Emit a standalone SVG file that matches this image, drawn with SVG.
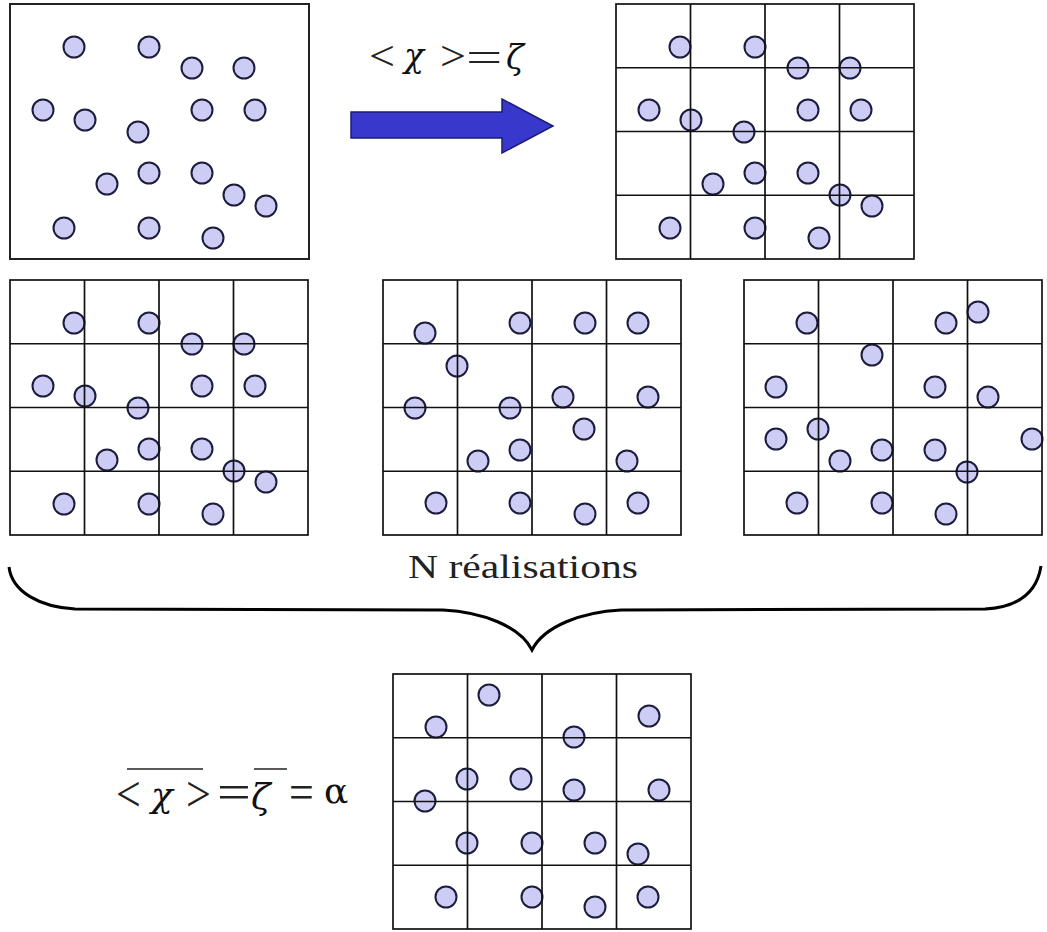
<svg xmlns="http://www.w3.org/2000/svg" xmlns:xlink="http://www.w3.org/1999/xlink" width="1047" height="932" viewBox="0 0 1047 932">
<style>
.c{fill:#ccccf4;stroke:#1c1c3c;stroke-width:2}
.g{fill:none;stroke:#111;stroke-width:1.7}
.t{font-family:"Liberation Serif","Times New Roman",serif;fill:#222}
.gr{font-family:"DejaVu Serif","Liberation Serif",serif;font-style:italic;fill:#111}
.up{font-family:"DejaVu Serif","Liberation Serif",serif;fill:#111}
.ov{stroke:#222;stroke-width:1.6}
</style>
<defs>
<g id="grid">
<rect x="0" y="0" width="298" height="255" class="g"/>
<path class="g" d="M74.5 0V255M149 0V255M223.5 0V255M0 63.75H298M0 127.5H298M0 191.25H298"/>
</g>
<g id="patA">
<circle class="c" cx="74" cy="47" r="10.5"/>
<circle class="c" cx="149" cy="47" r="10.5"/>
<circle class="c" cx="192" cy="68" r="10.5"/>
<circle class="c" cx="244" cy="68" r="10.5"/>
<circle class="c" cx="43" cy="110" r="10.5"/>
<circle class="c" cx="85" cy="120" r="10.5"/>
<circle class="c" cx="138" cy="132" r="10.5"/>
<circle class="c" cx="202" cy="110" r="10.5"/>
<circle class="c" cx="255" cy="110" r="10.5"/>
<circle class="c" cx="107" cy="184" r="10.5"/>
<circle class="c" cx="149" cy="173" r="10.5"/>
<circle class="c" cx="202" cy="173" r="10.5"/>
<circle class="c" cx="234" cy="195" r="10.5"/>
<circle class="c" cx="266" cy="206" r="10.5"/>
<circle class="c" cx="64" cy="228" r="10.5"/>
<circle class="c" cx="149" cy="228" r="10.5"/>
<circle class="c" cx="213" cy="238" r="10.5"/>
</g>
</defs>

<g id="panel-raw">
<use xlink:href="#patA"/>
<rect x="10" y="4" width="299" height="255" fill="none" stroke="#222" stroke-width="2"/>
</g>

<g id="panel-grid-top">
<use xlink:href="#patA" transform="translate(606,0)"/>
<use xlink:href="#grid" x="616" y="4"/>
</g>

<g id="panel-real-1">
<use xlink:href="#patA" transform="translate(0,276)"/>
<use xlink:href="#grid" x="10" y="280"/>
</g>

<g id="panel-real-2">
<circle class="c" cx="425" cy="333" r="10.5"/>
<circle class="c" cx="520" cy="323" r="10.5"/>
<circle class="c" cx="585" cy="323" r="10.5"/>
<circle class="c" cx="638" cy="323" r="10.5"/>
<circle class="c" cx="457" cy="366" r="10.5"/>
<circle class="c" cx="415" cy="408" r="10.5"/>
<circle class="c" cx="510" cy="408" r="10.5"/>
<circle class="c" cx="563" cy="397" r="10.5"/>
<circle class="c" cx="648" cy="397" r="10.5"/>
<circle class="c" cx="584" cy="429" r="10.5"/>
<circle class="c" cx="520" cy="450" r="10.5"/>
<circle class="c" cx="478" cy="461" r="10.5"/>
<circle class="c" cx="627" cy="461" r="10.5"/>
<circle class="c" cx="436" cy="503" r="10.5"/>
<circle class="c" cx="520" cy="503" r="10.5"/>
<circle class="c" cx="585" cy="514" r="10.5"/>
<circle class="c" cx="638" cy="503" r="10.5"/>
<use xlink:href="#grid" x="383" y="280"/>
</g>

<g id="panel-real-3">
<circle class="c" cx="807" cy="323" r="10.5"/>
<circle class="c" cx="946" cy="323" r="10.5"/>
<circle class="c" cx="978" cy="312" r="10.5"/>
<circle class="c" cx="872" cy="355" r="10.5"/>
<circle class="c" cx="776" cy="387" r="10.5"/>
<circle class="c" cx="935" cy="387" r="10.5"/>
<circle class="c" cx="988" cy="397" r="10.5"/>
<circle class="c" cx="776" cy="439" r="10.5"/>
<circle class="c" cx="818" cy="429" r="10.5"/>
<circle class="c" cx="840" cy="461" r="10.5"/>
<circle class="c" cx="882" cy="450" r="10.5"/>
<circle class="c" cx="935" cy="450" r="10.5"/>
<circle class="c" cx="967" cy="472" r="10.5"/>
<circle class="c" cx="1032" cy="439" r="10.5"/>
<circle class="c" cx="797" cy="503" r="10.5"/>
<circle class="c" cx="882" cy="503" r="10.5"/>
<circle class="c" cx="946" cy="514" r="10.5"/>
<use xlink:href="#grid" x="744" y="280"/>
</g>

<g id="panel-mean">
<circle class="c" cx="489" cy="695" r="10.5"/>
<circle class="c" cx="436" cy="727" r="10.5"/>
<circle class="c" cx="649" cy="716" r="10.5"/>
<circle class="c" cx="574" cy="737" r="10.5"/>
<circle class="c" cx="467" cy="779" r="10.5"/>
<circle class="c" cx="521" cy="779" r="10.5"/>
<circle class="c" cx="574" cy="790" r="10.5"/>
<circle class="c" cx="659" cy="790" r="10.5"/>
<circle class="c" cx="425" cy="801" r="10.5"/>
<circle class="c" cx="467" cy="843" r="10.5"/>
<circle class="c" cx="532" cy="843" r="10.5"/>
<circle class="c" cx="595" cy="843" r="10.5"/>
<circle class="c" cx="638" cy="854" r="10.5"/>
<circle class="c" cx="446" cy="897" r="10.5"/>
<circle class="c" cx="532" cy="897" r="10.5"/>
<circle class="c" cx="595" cy="907" r="10.5"/>
<circle class="c" cx="648" cy="897" r="10.5"/>
<use xlink:href="#grid" x="393" y="674"/>
</g>

<g id="connectors">
<polygon points="351,112 502,112 502,99 553,126 502,153 502,138 351,138" fill="#3838cc" stroke="#1b1b78" stroke-width="1.5"/>
<path d="M9 567 C12 592 40 607 75 609 L443 610 C482 612 520 626 532 650 C544 626 582 612 621 610 L985 609 C1020 607 1037 592 1041 566" fill="none" stroke="#000" stroke-width="3"/>
</g>

<g id="formula-top">
<text class="t" font-size="43" transform="translate(369,70) scale(1.07,1)">&lt;</text>
<text class="gr" font-size="33" x="404" y="67">χ</text>
<text class="t" font-size="43" transform="translate(440,70) scale(1.07,1)">&gt;</text>
<text class="t" font-size="43" transform="translate(466,71) scale(1.5,1)">=</text>
<text class="gr" font-size="33" x="506" y="69">ζ</text>
</g>

<g id="label-n">
<text class="t" font-size="34" x="408" y="578" textLength="230" lengthAdjust="spacingAndGlyphs">N réalisations</text>
</g>

<g id="formula-bottom">
<line class="ov" x1="127" y1="769" x2="203" y2="769"/>
<line class="ov" x1="254" y1="769" x2="287" y2="769"/>
<text class="t" font-size="50" transform="translate(116,811) scale(0.88,1)">&lt;</text>
<text class="gr" font-size="36" x="151" y="807">χ</text>
<text class="t" font-size="50" transform="translate(186,811) scale(0.88,1)">&gt;</text>
<text class="t" font-size="50" transform="translate(217,809) scale(1.2,1)">=</text>
<text class="gr" font-size="36" x="251" y="809">ζ</text>
<text class="t" font-size="50" transform="translate(289,809) scale(0.88,1)">=</text>
<text class="up" font-size="36" x="324" y="803">α</text>
</g>
</svg>
